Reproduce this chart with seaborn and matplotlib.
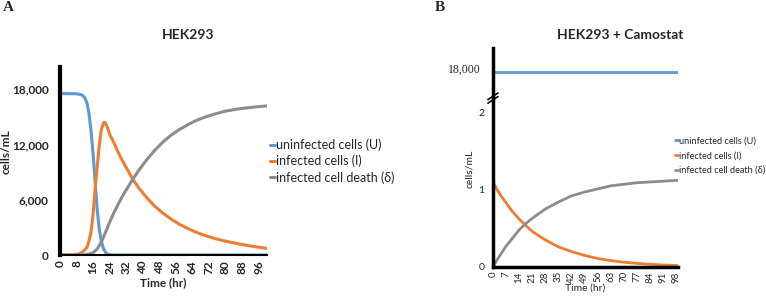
import numpy as np
import pandas as pd
import seaborn as sns
import matplotlib.pyplot as plt

# Panel A - HEK293
a_u_t = [0, 4, 8, 10, 11, 12, 13, 14, 15, 16, 17, 18, 19, 20, 21, 22, 23, 24, 26, 40, 60, 80, 100]
a_u_v = [17500, 17500, 17480, 17400, 17300, 17050, 16500, 15400, 13500, 11000, 7900, 4900, 2800,
         1500, 700, 300, 100, 30, 0, 0, 0, 0, 0]

a_i_t = [0, 6, 9, 11, 13, 14, 15, 16, 17, 18, 19, 20, 21, 21.5, 22, 23, 24, 26, 28, 30, 32, 35,
         38, 42, 46, 50, 54, 58, 62, 66, 70, 75, 80, 85, 90, 95, 100]
a_i_v = [0, 10, 100, 350, 800, 1500, 2500, 4400, 7200, 9600, 11900, 13600, 14300, 14400, 14300,
         13800, 13100, 12200, 11200, 10300, 9500, 8300, 7300, 6200, 5250, 4500, 3850, 3300, 2850,
         2450, 2120, 1780, 1500, 1270, 1060, 880, 720]

a_d_t = [0, 10, 12, 14, 16, 18, 20, 22, 24, 26, 28, 30, 32, 35, 38, 42, 46, 50, 54, 58, 62, 66,
         70, 75, 80, 85, 90, 95, 100]
a_d_v = [0, 0, 30, 100, 250, 650, 1400, 2450, 3550, 4550, 5450, 6300, 7050, 8150, 9150, 10350,
         11400, 12300, 13050, 13650, 14150, 14600, 14950, 15300, 15600, 15800, 15950, 16070, 16170]

# Panel B - HEK293 + Camostat
b_t = [0, 2, 4, 7, 10, 14, 17, 21, 28, 35, 42, 49, 56, 63, 70, 77, 84, 91, 98, 100]
b_u_v = [17500] * len(b_t)
b_i_v = [1.10, 1.01, 0.93, 0.83, 0.73, 0.62, 0.55, 0.46, 0.35, 0.26, 0.20, 0.15, 0.11, 0.083,
         0.062, 0.047, 0.035, 0.026, 0.02, 0.018]
b_d_v = [0, 0.085, 0.16, 0.27, 0.36, 0.48, 0.55, 0.63, 0.75, 0.84, 0.92, 0.97, 1.01, 1.05, 1.07,
         1.09, 1.10, 1.11, 1.12, 1.12]

labels = ["uninfected cells (U)", "infected cells (I)", "infected cell death (δ)"]
colors = ["#5B9BD5", "#ED7D31", "#8C8C8C"]

sns.set_theme(style="white")
plt.rcParams['font.family'] = ['Lato', 'DejaVu Sans']

fig = plt.figure(figsize=(7.66, 3.0), dpi=100)

# ---- panel A
ax = fig.add_axes([0.0783, 0.15, 0.270, 0.627])
series_a = [(a_u_t, a_u_v), (a_i_t, a_i_v), (a_d_t, a_d_v)]
for (t, v), lab, c in zip(series_a, labels, colors):
    df = pd.DataFrame({"t": t, "v": v})
    sns.lineplot(data=df, x="t", y="v", color=c, lw=2.2, label=lab, ax=ax)
ax.set_xlim(0, 100)
ax.set_ylim(0, 20400)
ax.set_xticks(np.arange(0, 97, 8))
ax.set_xticklabels([str(x) for x in range(0, 97, 8)], rotation=90, fontsize=8.5, fontweight='bold')
ax.set_yticks([0, 6000, 12000, 18000])
ax.set_yticklabels(["0", "6,000", "12,000", "18,000"], fontsize=8.5, fontweight='bold')
ax.tick_params(axis='y', length=0, pad=8)
ax.tick_params(axis='x', length=0, pad=4)
for s in ["top", "right"]:
    ax.spines[s].set_visible(False)
ax.spines["left"].set_linewidth(3)
ax.spines["left"].set_color("black")
ax.spines["bottom"].set_linewidth(1.5)
ax.spines["bottom"].set_color("black")
ax.set_xlabel("Time (hr)", fontsize=8.5, fontweight='bold', labelpad=2)
ax.set_ylabel("cells/mL", fontsize=8.5, fontweight='bold')
ax.yaxis.set_label_coords(-0.235, 0.55)
ax.legend(loc="center left", bbox_to_anchor=(0.99, 0.50), frameon=False, fontsize=9,
          handlelength=0.4, handletextpad=0.1, labelspacing=0.3, borderaxespad=0)
fig.text(0.245, 0.883, "HEK293", ha="center", va="center", fontsize=10, fontweight='bold')
fig.text(0.004, 0.975, "A", ha="left", va="center", fontsize=11, fontweight='bold',
         family="Liberation Serif")

# ---- panel B lower
bx = fig.add_axes([0.6436, 0.11, 0.2415, 0.567])
for v, lab, c in zip([b_u_v, b_i_v, b_d_v], labels, colors):
    df = pd.DataFrame({"t": b_t, "v": v})
    sns.lineplot(data=df, x="t", y="v", color=c, lw=2, label=lab, ax=bx)
bx.set_xlim(0, 99)
bx.set_ylim(0, 2.2)
bx.set_xticks(np.arange(0, 99, 7))
bx.set_xticklabels([str(x) for x in range(0, 99, 7)], rotation=90, fontsize=7)
bx.set_yticks([0, 1, 2])
bx.set_yticklabels(["0", "1", "2"], fontsize=7.5)
bx.tick_params(axis='y', length=0, pad=6)
bx.tick_params(axis='x', length=0, pad=3)
for s in ["top", "right"]:
    bx.spines[s].set_visible(False)
for s in ["left", "bottom"]:
    bx.spines[s].set_linewidth(2.5)
    bx.spines[s].set_color("black")
bx.set_xlabel("Time (hr)", fontsize=7.5, labelpad=1)
bx.set_ylabel("cells/mL", fontsize=7.5)
bx.yaxis.set_label_coords(-0.1, 0.58)
bx.legend(loc="center left", bbox_to_anchor=(0.965, 0.655), frameon=False, fontsize=6.6,
          handlelength=0.3, handletextpad=0.1, labelspacing=0.65, borderaxespad=0)

# ---- panel B upper (broken axis)
ux = fig.add_axes([0.6436, 0.6767, 0.2415, 0.163], sharex=bx)
sns.lineplot(x=b_t, y=b_u_v, color=colors[0], lw=2, ax=ux)
ux.set_ylim(14400, 20500)
ux.set_yticks([18000])
ux.set_yticklabels(["18,000"], fontsize=8.5, family="Liberation Serif")
ux.tick_params(length=0, pad=9, labelbottom=False)
for s in ["top", "right", "bottom"]:
    ux.spines[s].set_visible(False)
ux.spines["left"].set_linewidth(2.5)
ux.spines["left"].set_color("black")
ux.set_xlabel("")
ux.set_ylabel("")

# break marks
for dy in (-0.012, 0.0):
    fig.add_artist(plt.Line2D([0.637, 0.650], [0.668 + dy, 0.690 + dy], color="black", lw=1.2))

fig.text(0.81, 0.883, "HEK293 + Camostat", ha="center", va="center", fontsize=10, fontweight='bold')
fig.text(0.567, 0.975, "B", ha="left", va="center", fontsize=11, fontweight='bold',
         family="Liberation Serif")

fig.savefig("out.png", dpi=100)
